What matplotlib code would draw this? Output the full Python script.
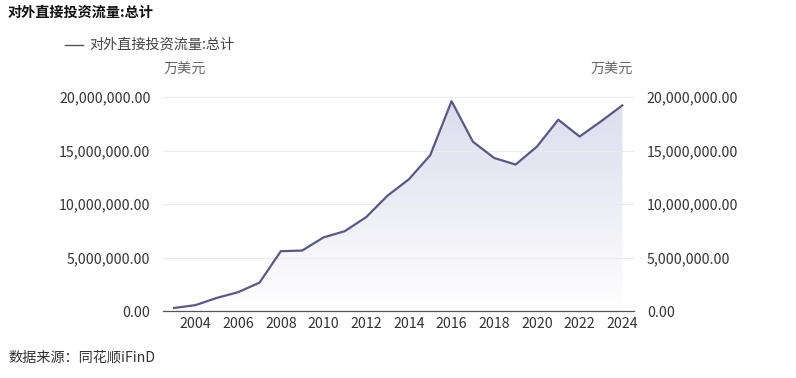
import numpy as np
import matplotlib.pyplot as plt
from matplotlib.patches import Polygon
from matplotlib.lines import Line2D
from matplotlib.ticker import FuncFormatter
from matplotlib.colors import LinearSegmentedColormap

plt.rcParams['font.family'] = ['Noto Sans CJK SC', 'DejaVu Sans']

# 对外直接投资流量:总计 (万美元)
years = np.arange(2003, 2025)
values = [285000, 549800, 1226100, 1763400, 2650600, 5590700, 5652900,
          6881100, 7465400, 8780400, 10784300, 12311900, 14566700, 19614900,
          15828800, 14303700, 13690800, 15371000, 17881900, 16312000,
          17729000, 19220000]
xticks = np.arange(2004, 2025, 2)
yticks = [0, 5e6, 10e6, 15e6, 20e6]

line_color = '#595889'
fs = 10.2

fig = plt.figure(figsize=(7.96, 3.78), dpi=100)
ax = fig.add_axes([0.2048, 0.1772, 0.592, 0.566])

# gradient fill under the line
grad = np.linspace(0, 1, 256).reshape(-1, 1)
cmap = LinearSegmentedColormap.from_list('g', ['#ffffff', '#dcdcee'])
im = ax.imshow(grad, extent=[years[0], years[-1], 0, max(values)], origin='lower',
               aspect='auto', cmap=cmap, zorder=1)
poly = Polygon(np.column_stack([np.r_[years[0], years, years[-1]],
                                np.r_[0, values, 0]]), closed=True,
               facecolor='none', edgecolor='none')
ax.add_patch(poly)
im.set_clip_path(poly)

ax.plot(years, values, color=line_color, lw=1.6, zorder=3)
ax.set_xlim(2002.48, 2024.56)
ax.set_ylim(0, 20e6)

ax.set_xticks(xticks)
ax.set_yticks(yticks)
ax.yaxis.set_major_formatter(FuncFormatter(lambda v, p: f'{v:,.2f}'))
ax.grid(axis='y', color='#ebebeb', lw=0.8, zorder=0)
for s in ['top', 'right', 'left']:
    ax.spines[s].set_visible(False)
ax.spines['bottom'].set_color('#555555')
ax.spines['bottom'].set_linewidth(0.9)
ax.tick_params(axis='both', length=0, colors='#333333', labelsize=fs)
ax.tick_params(axis='x', pad=4)
ax.tick_params(axis='y', pad=9)

ax2 = ax.twinx()
ax2.set_ylim(0, 20e6)
ax2.set_yticks(yticks)
ax2.yaxis.set_major_formatter(FuncFormatter(lambda v, p: f'{v:,.2f}'))
for s in ['top', 'right', 'left', 'bottom']:
    ax2.spines[s].set_visible(False)
ax2.tick_params(axis='y', length=0, colors='#333333', labelsize=fs, pad=9)

fig.text(8 / 796, 1 - 13 / 378, '对外直接投资流量:总计', fontsize=fs,
         fontweight='bold', color='#111111', va='center', ha='left')
fig.add_artist(Line2D([65 / 796, 83 / 796], [1 - 45 / 378, 1 - 45 / 378],
                      color='#555555', lw=1.0, transform=fig.transFigure))
fig.text(89 / 796, 1 - 45 / 378, '对外直接投资流量:总计', fontsize=fs,
         color='#444444', va='center', ha='left')
fig.text(185 / 796, 1 - 70 / 378, '万美元', fontsize=fs, color='#666666',
         va='center', ha='center')
fig.text(612 / 796, 1 - 70 / 378, '万美元', fontsize=fs, color='#666666',
         va='center', ha='center')
fig.text(8 / 796, 1 - 358 / 378, '数据来源：同花顺iFinD', fontsize=fs,
         color='#333333', va='center', ha='left')

plt.savefig('out.png', dpi=100)
